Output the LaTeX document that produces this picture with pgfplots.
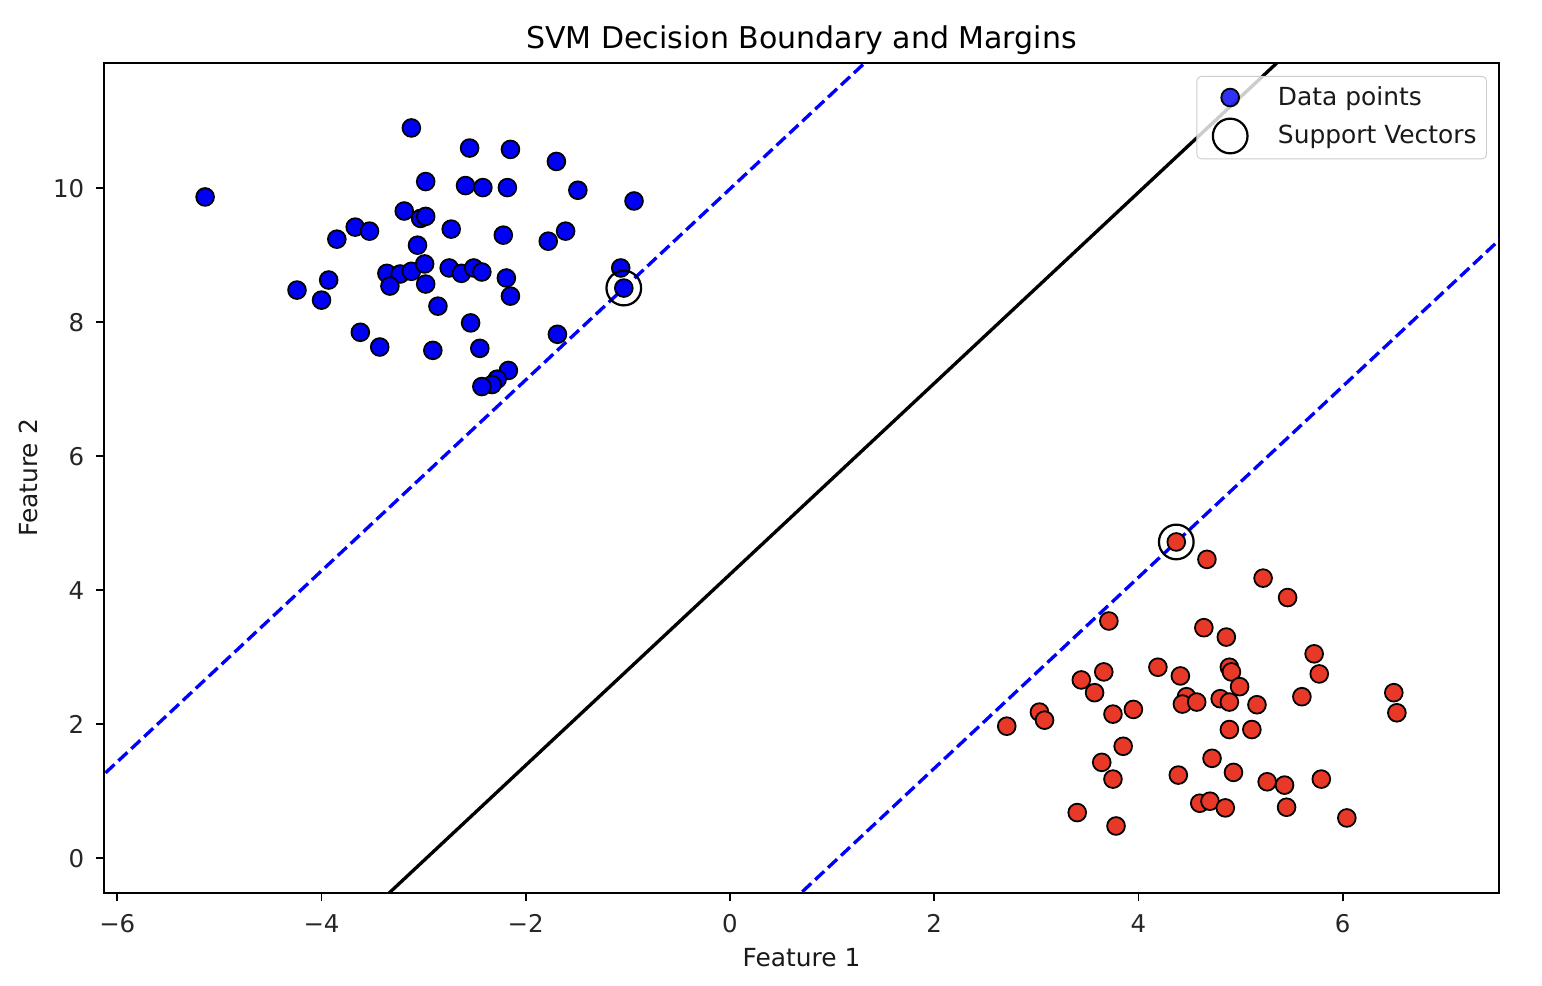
\documentclass[border=0pt]{standalone}
\usepackage{pgfplots}
\pgfplotsset{compat=1.18}
\usepackage{fontspec}
\setmainfont{DejaVu Sans}
\definecolor{ptred}{RGB}{232,56,40}
\definecolor{ptblue}{RGB}{0,0,245}
\pgfplotsset{mylegimg/.style={legend image code/.code={\pgfpathrectangle{\pgfpoint{0pt}{-1pt}}{\pgfpoint{32pt}{2pt}}\pgfusepath{discard}\draw[mark repeat=2, mark phase=2, ##1] plot coordinates {(0pt,0pt) (12.5pt,0pt) (32pt,0pt)};}}}
\begin{document}
\begin{tikzpicture}
\useasboundingbox (-46.8pt,-41.85pt) rectangle (647.1pt,401.85pt);
\begin{axis}[
  at={(0,0)}, anchor=south west,
  scale only axis, width=627.75pt, height=373.5pt,
  xmin=-6.13, xmax=7.53, ymin=-0.52, ymax=11.87,
  xtick={-6,-4,-2,0,2,4,6}, xticklabels={−6,−4,−2,0,2,4,6},
  ytick={0,2,4,6,8,10}, yticklabels={0,2,4,6,8,10},
  xtick pos=left, ytick pos=left,
  tick align=outside, major tick length=3.8pt,
  tick style={black, line width=0.8pt},
  axis line style={line width=0.8pt},
  ticklabel style={font=\fontsize{11}{13}\selectfont, text=black!85},
  xticklabel style={anchor=base, yshift=-13.8pt},
  yticklabel style={anchor=east, xshift=-1.6pt},
  title={SVM Decision Boundary and Margins},
  title style={font=\fontsize{13.5}{16}\selectfont, at={(axis description cs:0.5,1)}, anchor=base, yshift=0.5pt},
  xlabel={Feature 1}, ylabel={Feature 2},
  label style={font=\fontsize{11.2}{13}\selectfont, text=black!90},
  xlabel style={at={(axis description cs:0.5,-0.0889)}, anchor=base},
  ylabel style={at={(axis description cs:-0.048,0.5)}, anchor=base},
  legend style={at={(axis description cs:1,1)}, anchor=north east, xshift=-5.4pt, yshift=-5.85pt,
    draw=black!20, rounded corners=2pt, fill=white, fill opacity=0.8, text opacity=1,
    font=\fontsize{11.2}{13}\selectfont, row sep=2.5pt, inner sep=2.5pt, text=black!90},
  legend cell align=left,
  clip=true,
]
\addplot[only marks, mark=*, mark size=4pt, mark options={fill=ptblue, draw=black, line width=0.8pt}, mylegimg] coordinates {
(-5.14,9.87) (-3.12,10.90) (-2.55,10.60) (-2.15,10.58) (-1.70,10.40)
(-2.98,10.10) (-2.59,10.04) (-2.42,10.01) (-2.18,10.01) (-1.49,9.97)
(-0.94,9.81) (-3.19,9.66) (-3.03,9.55) (-2.98,9.58) (-3.67,9.42)
(-3.53,9.36) (-2.73,9.39) (-3.85,9.24) (-2.22,9.30) (-1.61,9.36)
(-1.78,9.21) (-3.06,9.15) (-1.07,8.81) (-1.04,8.51) (-3.93,8.63)
(-4.24,8.48) (-4.00,8.33) (-3.36,8.73) (-3.23,8.72) (-3.12,8.76)
(-2.99,8.87) (-2.75,8.81) (-2.63,8.73) (-2.51,8.81) (-2.43,8.75)
(-2.19,8.66) (-3.33,8.54) (-2.98,8.57) (-2.15,8.39) (-2.86,8.24)
(-2.54,7.99) (-1.69,7.82) (-3.62,7.85) (-3.43,7.63) (-2.91,7.58)
(-2.45,7.61) (-2.17,7.28) (-2.28,7.15) (-2.33,7.07) (-2.43,7.04)
};
\addlegendentry{Data points}
\addplot[only marks, mark=*, mark size=4pt, mark options={fill=ptred, draw=black, line width=0.8pt}, forget plot] coordinates {
(4.37,4.72) (4.67,4.46) (3.71,3.54) (4.64,3.44) (4.19,2.85)
(4.41,2.72) (3.66,2.78) (3.44,2.66) (3.57,2.47) (5.22,4.18)
(5.46,3.89) (4.86,3.30) (5.72,3.05) (5.77,2.75) (4.89,2.85)
(4.91,2.78) (4.99,2.56) (6.50,2.47) (5.60,2.41) (6.53,2.17)
(3.03,2.18) (3.08,2.06) (2.71,1.97) (3.75,2.15) (3.95,2.22)
(3.85,1.67) (3.64,1.43) (3.75,1.18) (4.39,1.24) (3.40,0.68)
(3.78,0.48) (4.47,2.41) (4.43,2.30) (4.57,2.33) (4.80,2.38)
(4.89,2.33) (5.16,2.29) (4.89,1.92) (5.11,1.92) (4.72,1.49)
(4.93,1.28) (5.26,1.14) (5.43,1.09) (5.79,1.18) (4.60,0.82)
(4.70,0.85) (4.85,0.75) (5.45,0.76) (6.04,0.60)
};
\addplot[black, line width=1.5pt, forget plot] coordinates {(-7,-5.74) (8,15.64)};
\addplot[blue, line width=1.5pt, dash pattern=on 5.55pt off 2.4pt, forget plot] coordinates {(-7,0.012) (8,21.394)};
\addplot[blue, line width=1.5pt, dash pattern=on 5.55pt off 2.4pt, forget plot] coordinates {(-7,-11.49) (8,9.894)};
\addplot[only marks, mark=o, mark size=7.8pt, mark options={draw=black, line width=1pt}, mylegimg] coordinates {
(-1.04,8.51) (4.37,4.72)
};
\addlegendentry{Support Vectors}
\end{axis}
\end{tikzpicture}
\end{document}
